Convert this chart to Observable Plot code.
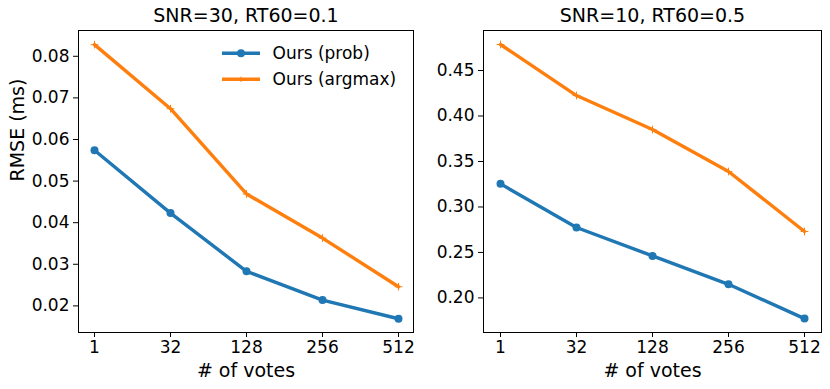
<!DOCTYPE html>
<html>
<head>
<meta charset="utf-8">
<script src="https://cdn.jsdelivr.net/npm/d3@7"></script>
<script src="https://cdn.jsdelivr.net/npm/@observablehq/plot@0.6"></script>
<style>
  html, body { margin: 0; padding: 0; background: #fff; }
  #wrap { position: relative; width: 830px; height: 389px; font-family: "DejaVu Sans", sans-serif; }
  .panel { position: absolute; top: 0; }
  #legend { position: absolute; left: 0; top: 0; pointer-events: none; }
</style>
</head>
<body>
<div id="wrap">
  <div class="panel" id="left" style="left:0"></div>
  <div class="panel" id="right" style="left:415px"></div>
</div>
<script>
const votes = ["1", "32", "128", "256", "512"];
const seriesNames = ["Ours (prob)", "Ours (argmax)"];
const titles = ["SNR=30, RT60=0.1", "SNR=10, RT60=0.5"];

const probLeft   = [0.0574, 0.0423, 0.0283, 0.0214, 0.0169];
const argmaxLeft = [0.0828, 0.0674, 0.0469, 0.0363, 0.0246];
const probRight   = [0.3254, 0.2774, 0.2462, 0.2150, 0.1773];
const argmaxRight = [0.4786, 0.4225, 0.3851, 0.3390, 0.2730];

const yTicksLeft  = [0.02, 0.03, 0.04, 0.05, 0.06, 0.07, 0.08];
const yTicksRight = [0.20, 0.25, 0.30, 0.35, 0.40, 0.45];

const blue = "#1f77b4", orange = "#ff7f0e";

function rows(vals) { return votes.map((v, i) => ({votes: v, value: vals[i]})); }

function panel({title, prob, argmax, yDomain, yTicks, margins, yLabel}) {
  const marks = [
    Plot.frame({stroke: "black", strokeWidth: 1}),
    Plot.axisX({tickSize: 5, tickPadding: 3, label: null}),
    Plot.axisY({ticks: yTicks, tickFormat: d3.format(".2f"), tickSize: 5, tickPadding: 4, label: null}),
    Plot.line(rows(prob), {x: "votes", y: "value", stroke: blue, strokeWidth: 3.4}),
    Plot.dot(rows(prob), {x: "votes", y: "value", fill: blue, r: 4}),
    Plot.line(rows(argmax), {x: "votes", y: "value", stroke: orange, strokeWidth: 3.4}),
    Plot.dot(rows(argmax), {x: "votes", y: "value", symbol: "plus", stroke: orange, strokeWidth: 1, r: 2.6}),
    Plot.text([title], {text: d => d, frameAnchor: "top", dy: -15, fontSize: 19, lineAnchor: "middle", fill: "black"}),
    Plot.text(["# of votes"], {text: d => d, frameAnchor: "bottom", dy: 38, fontSize: 19, lineAnchor: "middle", fill: "black"})
  ];
  if (yLabel) {
    marks.push(Plot.text([yLabel], {text: d => d, frameAnchor: "left", dx: -61, rotate: -90, fontSize: 19, lineAnchor: "middle", fill: "black"}));
  }
  return Plot.plot({
    width: 415,
    height: 389,
    ...margins,
    style: {fontFamily: "DejaVu Sans, sans-serif", fontSize: "17px", color: "black", background: "white", overflow: "visible"},
    x: {type: "point", domain: votes, padding: 0.2},
    y: {domain: yDomain},
    marks
  });
}

document.getElementById("left").appendChild(panel({
  title: titles[0], prob: probLeft, argmax: argmaxLeft,
  yDomain: [0.0136, 0.0862], yTicks: yTicksLeft,
  margins: {marginLeft: 78, marginRight: 2, marginTop: 30, marginBottom: 57},
  yLabel: "RMSE (ms)"
}));
document.getElementById("right").appendChild(panel({
  title: titles[1], prob: probRight, argmax: argmaxRight,
  yDomain: [0.162, 0.494], yTicks: yTicksRight,
  margins: {marginLeft: 68, marginRight: 9, marginTop: 30, marginBottom: 57},
  yLabel: null
}));

// Legend (left panel)
const ns = "http://www.w3.org/2000/svg";
const lg = document.createElementNS(ns, "svg");
lg.setAttribute("id", "legend");
lg.setAttribute("width", 830);
lg.setAttribute("height", 389);
const items = [{name: seriesNames[0], color: blue, y: 53.3, mk: "dot"}, {name: seriesNames[1], color: orange, y: 79.3, mk: "plus"}];
for (const it of items) {
  const l = document.createElementNS(ns, "line");
  l.setAttribute("x1", 222); l.setAttribute("x2", 260);
  l.setAttribute("y1", it.y); l.setAttribute("y2", it.y);
  l.setAttribute("stroke", it.color); l.setAttribute("stroke-width", 3.4);
  lg.appendChild(l);
  if (it.mk === "dot") {
    const c = document.createElementNS(ns, "circle");
    c.setAttribute("cx", 241); c.setAttribute("cy", it.y); c.setAttribute("r", 4);
    c.setAttribute("fill", it.color);
    lg.appendChild(c);
  } else {
    const p = document.createElementNS(ns, "path");
    p.setAttribute("d", `M241,${it.y - 2.6}V${it.y + 2.6}M238.4,${it.y}H243.6`);
    p.setAttribute("stroke", it.color); p.setAttribute("stroke-width", 1);
    lg.appendChild(p);
  }
  const t = document.createElementNS(ns, "text");
  t.setAttribute("x", 272.5); t.setAttribute("y", it.y);
  t.setAttribute("dy", "0.35em");
  t.setAttribute("font-size", "17px");
  t.setAttribute("font-family", "DejaVu Sans, sans-serif");
  t.setAttribute("fill", "black");
  t.textContent = it.name;
  lg.appendChild(t);
}
document.getElementById("wrap").appendChild(lg);
</script>
</body>
</html>
